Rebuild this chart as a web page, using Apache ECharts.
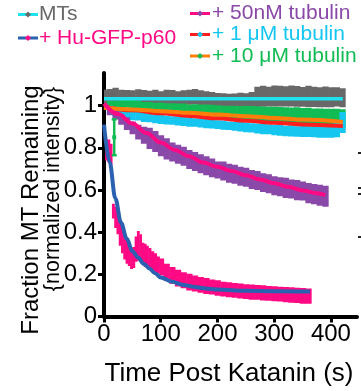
<!DOCTYPE html>
<html><head><meta charset="utf-8">
<script src="https://cdn.jsdelivr.net/npm/echarts@6/dist/echarts.min.js"></script>
<style>html,body{margin:0;padding:0;background:#fff}#c{width:361px;height:391px}</style>
</head><body><div id="c"></div>
<script>
// ---------- data ----------
const xTicks = [0, 100, 200, 300, 400];
const yTicks = [0, 0.2, 0.4, 0.6, 0.8, 1];

const T10 = [0,10,20,30,40,50,60,70,80,90,100,110,120,130,140,150,160,170,180,190,200,210,220,230,240,250,260,270,280,290,300,310,320,330,340,350,360,370,380,390,400,410,420];

// MTs (gray data)
const mtsMean = [1.04,1.042,1.045,1.04,1.04,1.038,1.042,1.04,1.036,1.038,1.035,1.04,1.038,1.035,1.038,1.04,1.042,1.038,1.035,1.032,
  1.028,1.026,1.025,1.026,1.028,1.027,1.03,
  1.042,1.045,1.043,1.046,1.045,1.044,1.046,1.044,1.042,1.044,1.042,1.04,1.042,1.04,1.042,1.038];
const mtsErr = [0.035,0.037,0.04,0.036,0.034,0.035,0.036,0.034,0.035,0.037,0.034,0.035,0.036,0.034,0.035,0.036,0.037,0.035,0.034,0.033,
  0.032,0.033,0.031,0.032,0.033,0.032,0.035,
  0.048,0.05,0.047,0.05,0.049,0.048,0.05,0.049,0.047,0.05,0.048,0.047,0.049,0.048,0.046,0.045];

// + 1 uM tubulin (cyan data)
const tub1Mean = [0.995,0.98,0.97,0.962,0.958,0.953,0.95,0.945,0.942,0.937,0.935,0.932,0.93,0.928,0.925,0.922,0.92,0.918,0.915,0.912,0.91,0.908,0.905,0.902,0.9,0.897,0.895,0.892,0.89,0.888,0.885,0.883,0.88,0.88,0.878,0.878,0.876,0.876,0.875,0.876,0.88,0.89,0.92];
const tub1Err = [0.012,0.02,0.022,0.02,0.021,0.022,0.02,0.022,0.021,0.02,0.022,0.021,0.02,0.022,0.021,0.022,0.02,0.021,0.022,0.02,0.021,0.022,0.02,0.021,0.022,0.023,0.022,0.024,0.025,0.024,0.025,0.026,0.025,0.026,0.025,0.026,0.025,0.026,0.027,0.028,0.032,0.04,0.05];

// + 10 uM tubulin (green data)
const tub10Mean = [1.0,1.005,1.005,1.008,1.01,1.008,1.005,1.0,0.998,0.995,0.995,0.992,0.99,0.99,0.988,0.985,0.985,0.982,0.98,0.978,0.975,0.972,0.97,0.968,0.965,0.965,0.962,0.96,0.958,0.955,0.955,0.952,0.95,0.948,0.948,0.945,0.945,0.942,0.942,0.94,0.94,0.94,0.938];
const tub10Err = [0.012,0.018,0.018,0.018,0.02,0.019,0.02,0.018,0.02,0.019,0.02,0.02,0.021,0.02,0.022,0.021,0.022,0.024,0.025,0.026,0.027,0.028,0.03,0.032,0.033,0.035,0.036,0.037,0.038,0.04,0.04,0.042,0.042,0.043,0.044,0.044,0.045,0.045,0.045,0.046,0.045,0.046,0.045];
const tub10Outlier = [[18, 0.85, 0.085]];

// + 50nM tubulin (purple data)
const tub50T = [0,10,20,30,40,50,60,70,80,90,100,110,120,130,140,150,160,170,180,190,200,210,220,230,240,250,260,270,280,290,300,310,320,330,340,350,360,370,380,390];
const tub50Mean = [1.0,0.975,0.955,0.935,0.915,0.895,0.875,0.86,0.845,0.83,0.81,0.795,0.78,0.77,0.76,0.745,0.735,0.725,0.715,0.705,0.695,0.69,0.68,0.675,0.665,0.66,0.65,0.645,0.635,0.63,0.62,0.615,0.61,0.605,0.6,0.595,0.585,0.58,0.575,0.57];
const tub50Err = [0.012,0.02,0.02,0.025,0.03,0.03,0.035,0.04,0.05,0.05,0.05,0.05,0.045,0.045,0.045,0.045,0.045,0.045,0.045,0.045,0.04,0.045,0.045,0.045,0.045,0.045,0.045,0.045,0.045,0.045,0.045,0.045,0.048,0.045,0.048,0.045,0.048,0.048,0.05,0.05];

// + Hu-GFP-p60 (pink data)
const p60T = [0,4,8,12,16,20,24,28,32,36,40,44,48,52,56,60,64,68,72,76,80,85,90,95,100,110,120,130,140,150,160,170,180,190,200,210,220,230,240,250,260,270,280,290,300,310,320,330,340,350,360];
const p60Mean = [1.0,0.79,0.785,0.77,0.50,0.47,0.44,0.39,0.36,0.33,0.31,0.29,0.275,0.28,0.32,0.335,0.325,0.30,0.29,0.285,0.275,0.265,0.255,0.245,0.235,0.21,0.195,0.182,0.172,0.163,0.156,0.15,0.145,0.14,0.135,0.13,0.127,0.124,0.121,0.118,0.116,0.114,0.112,0.11,0.108,0.106,0.104,0.102,0.1,0.098,0.097];
const p60Err = [0.012,0.05,0.055,0.05,0.035,0.05,0.05,0.055,0.06,0.06,0.06,0.05,0.05,0.05,0.06,0.07,0.065,0.05,0.055,0.05,0.05,0.045,0.045,0.04,0.04,0.04,0.04,0.04,0.038,0.04,0.038,0.037,0.038,0.036,0.037,0.035,0.036,0.035,0.036,0.035,0.036,0.035,0.036,0.035,0.036,0.035,0.036,0.037,0.036,0.037,0.036];

// fit curves
const fitMtsT = [0, 421];
const fitMtsV = [1.033, 1.033];
const fit1T = [0,50,100,150,200,250,300,350,421];
const fit1V = [0.995,0.978,0.964,0.951,0.94,0.929,0.919,0.911,0.903];
const fit10T = [0,50,100,150,200,250,300,350,421];
const fit10V = [0.99,0.982,0.974,0.966,0.958,0.95,0.942,0.934,0.923];
const fit50T = [0,25,50,75,100,125,150,175,200,225,250,275,300,325,350,375,390];
const fit50V = [1.01,0.96,0.915,0.87,0.825,0.79,0.76,0.73,0.71,0.69,0.67,0.65,0.632,0.615,0.598,0.585,0.576];
const fitP60T = [0,10,20,30,40,50,60,70,80,90,100,120,140,160,180,200,250,300,363];
const fitP60V = [0.91,0.73,0.56,0.445,0.37,0.31,0.28,0.25,0.228,0.205,0.185,0.165,0.15,0.14,0.133,0.128,0.122,0.12,0.118];

// ---------- chart ----------
const FONT = '"Liberation Sans", Arial, sans-serif';
const zip3 = (t, m, e) => t.map((v, i) => [v, m[i], e[i]]);
const zip2 = (t, v) => t.map((x, i) => [x, v[i]]);

function bandRender(tArr, color) {
  return function (params, api) {
    const i = params.dataIndex;
    const t = tArr[i];
    const left = i > 0 ? (tArr[i - 1] + t) / 2 : t;
    const right = i < tArr.length - 1 ? (tArr[i + 1] + t) / 2 : t + (t - tArr[i - 1]) / 2;
    const m = api.value(1), e = api.value(2);
    const p0 = api.coord([left, m + e]);
    const p1 = api.coord([right, m - e]);
    return {
      type: 'rect',
      shape: { x: p0[0], y: p0[1], width: Math.max(p1[0] - p0[0], 1) + 0.6, height: p1[1] - p0[1] },
      style: { fill: color }
    };
  };
}
function errBarRender(color) {
  return function (params, api) {
    const t = api.value(0), m = api.value(1), e = api.value(2);
    const top = api.coord([t, m + e]);
    const bot = api.coord([t, m - e]);
    const mid = api.coord([t, m]);
    return {
      type: 'group',
      children: [
        { type: 'line', shape: { x1: top[0], y1: top[1], x2: bot[0], y2: bot[1] }, style: { stroke: color, lineWidth: 2.5 } },
        { type: 'line', shape: { x1: top[0] - 2.5, y1: top[1], x2: top[0] + 2.5, y2: top[1] }, style: { stroke: color, lineWidth: 2.5 } },
        { type: 'line', shape: { x1: bot[0] - 2.5, y1: bot[1], x2: bot[0] + 2.5, y2: bot[1] }, style: { stroke: color, lineWidth: 2.5 } },
        { type: 'rect', shape: { x: mid[0] - 2, y: mid[1] - 2, width: 4, height: 4 }, style: { fill: color } }
      ]
    };
  };
}
function bandSeries(name, t, m, e, color) {
  return { name, type: 'custom', data: zip3(t, m, e), encode: { x: 0, y: 1 }, clip: true,
    renderItem: bandRender(t, color), silent: true, z: 2 };
}
function fitSeries(name, t, v, color, width) {
  return { name, type: 'line', data: zip2(t, v), showSymbol: false, smooth: 0.35, smoothMonotone: 'x',
    lineStyle: { color, width }, silent: true, z: 5 };
}

const C = {
  gray: '#686868', cyanFit: '#1EE3EF', cyanData: '#14C6F0', green: '#12BC55', orange: '#FF7E0A',
  red: '#FF1E1E', purple: '#8A48A8', pink: '#FF0A84', blue: '#2A61B0'
};

const legendCfg = [
  { text: 'MTs', color: C.gray, line: C.cyanFit, mark: C.gray, lx: 18, tx: 39, y: 14.5 },
  { text: '+ Hu-GFP-p60', color: C.pink, line: C.blue, mark: C.pink, lx: 18, tx: 39, y: 38 },
  { text: '+ 50nM tubulin', color: C.purple, line: C.pink, mark: C.purple, lx: 190, tx: 212, y: 13.5 },
  { text: '+ 1 μM tubulin', color: C.cyanData, line: C.red, mark: C.cyanData, lx: 190, tx: 212, y: 34.5 },
  { text: '+ 10 μM tubulin', color: C.green, line: C.orange, mark: C.green, lx: 190, tx: 212, y: 56 }
];
const graphics = [];
legendCfg.forEach(l => {
  graphics.push({ type: 'line', shape: { x1: l.lx, y1: l.y, x2: l.lx + 20, y2: l.y }, style: { stroke: l.line, lineWidth: 3 } });
  const cx = l.lx + 10, cy = l.y, r = 3;
  graphics.push({ type: 'polygon', shape: { points: [[cx, cy - r], [cx + r, cy], [cx, cy + r], [cx - r, cy]] }, style: { fill: l.mark } });
  graphics.push({ type: 'text', x: l.tx, y: l.y, style: { text: l.text, fill: l.color, font: '21px ' + FONT,
    align: 'left', verticalAlign: 'middle', textAlign: 'left', textVerticalAlign: 'middle' } });
});
graphics.push({ type: 'text', x: 31, y: 210, rotation: Math.PI / 2, style: { text: 'Fraction MT Remaining', fill: '#000',
  font: '24px ' + FONT, align: 'center', verticalAlign: 'middle', textAlign: 'center', textVerticalAlign: 'middle' } });
graphics.push({ type: 'text', x: 53, y: 189, rotation: Math.PI / 2, style: { text: '{normalized intensity}', fill: '#000',
  font: '21.5px ' + FONT, align: 'center', verticalAlign: 'middle', textAlign: 'center', textVerticalAlign: 'middle' } });
graphics.push({ type: 'text', x: 229, y: 374, style: { text: 'Time Post Katanin (s)', fill: '#000',
  font: '26px ' + FONT, align: 'center', verticalAlign: 'middle', textAlign: 'center', textVerticalAlign: 'middle' } });
[[358, 152], [358, 187], [358, 193], [358, 236]].forEach(p => {
  graphics.push({ type: 'rect', shape: { x: p[0], y: p[1], width: 3, height: 2 }, style: { fill: '#222' } });
});

const option = {
  animation: false,
  backgroundColor: '#fff',
  grid: { left: 104, right: 4, top: 73, bottom: 74.5, containLabel: false, outerBoundsMode: 'none' },
  xAxis: {
    type: 'value', min: 0, max: 446, interval: 100,
    axisLine: { show: true, onZero: false, lineStyle: { color: '#000', width: 4 } },
    axisTick: { show: true, customValues: xTicks, length: 6, lineStyle: { color: '#000', width: 3 } },
    axisLabel: { customValues: xTicks, fontSize: 24, color: '#000', fontFamily: FONT, margin: 6 },
    splitLine: { show: false }
  },
  yAxis: {
    type: 'value', min: 0, max: 1.155, interval: 0.2,
    axisLine: { show: true, onZero: false, lineStyle: { color: '#000', width: 4 } },
    axisTick: { show: true, customValues: yTicks, length: 6, lineStyle: { color: '#000', width: 3 } },
    axisLabel: { customValues: yTicks, fontSize: 24, color: '#000', fontFamily: FONT, margin: 7 },
    splitLine: { show: false }
  },
  graphic: graphics,
  series: [
    bandSeries('MTs', T10, mtsMean, mtsErr, C.gray),
    bandSeries('+ 10 μM tubulin', T10, tub10Mean, tub10Err, C.green),
    bandSeries('+ 1 μM tubulin', T10, tub1Mean, tub1Err, C.cyanData),
    { name: '+ 10 μM outlier', type: 'custom', data: tub10Outlier, encode: { x: 0, y: 1 }, renderItem: errBarRender(C.green), silent: true, z: 3 },
    bandSeries('+ 50nM tubulin', tub50T, tub50Mean, tub50Err, C.purple),
    bandSeries('+ Hu-GFP-p60', p60T, p60Mean, p60Err, C.pink),
    fitSeries('MTs fit', fitMtsT, fitMtsV, C.cyanFit, 3.5),
    fitSeries('1 μM fit', fit1T, fit1V, C.red, 4),
    fitSeries('10 μM fit', fit10T, fit10V, C.orange, 4),
    fitSeries('50nM fit', fit50T, fit50V, C.pink, 4),
    fitSeries('Hu-GFP-p60 fit', fitP60T, fitP60V, C.blue, 4)
  ]
};
const chart = echarts.init(document.getElementById('c'), null, { renderer: 'canvas' });
chart.setOption(option);
</script>
</body></html>
